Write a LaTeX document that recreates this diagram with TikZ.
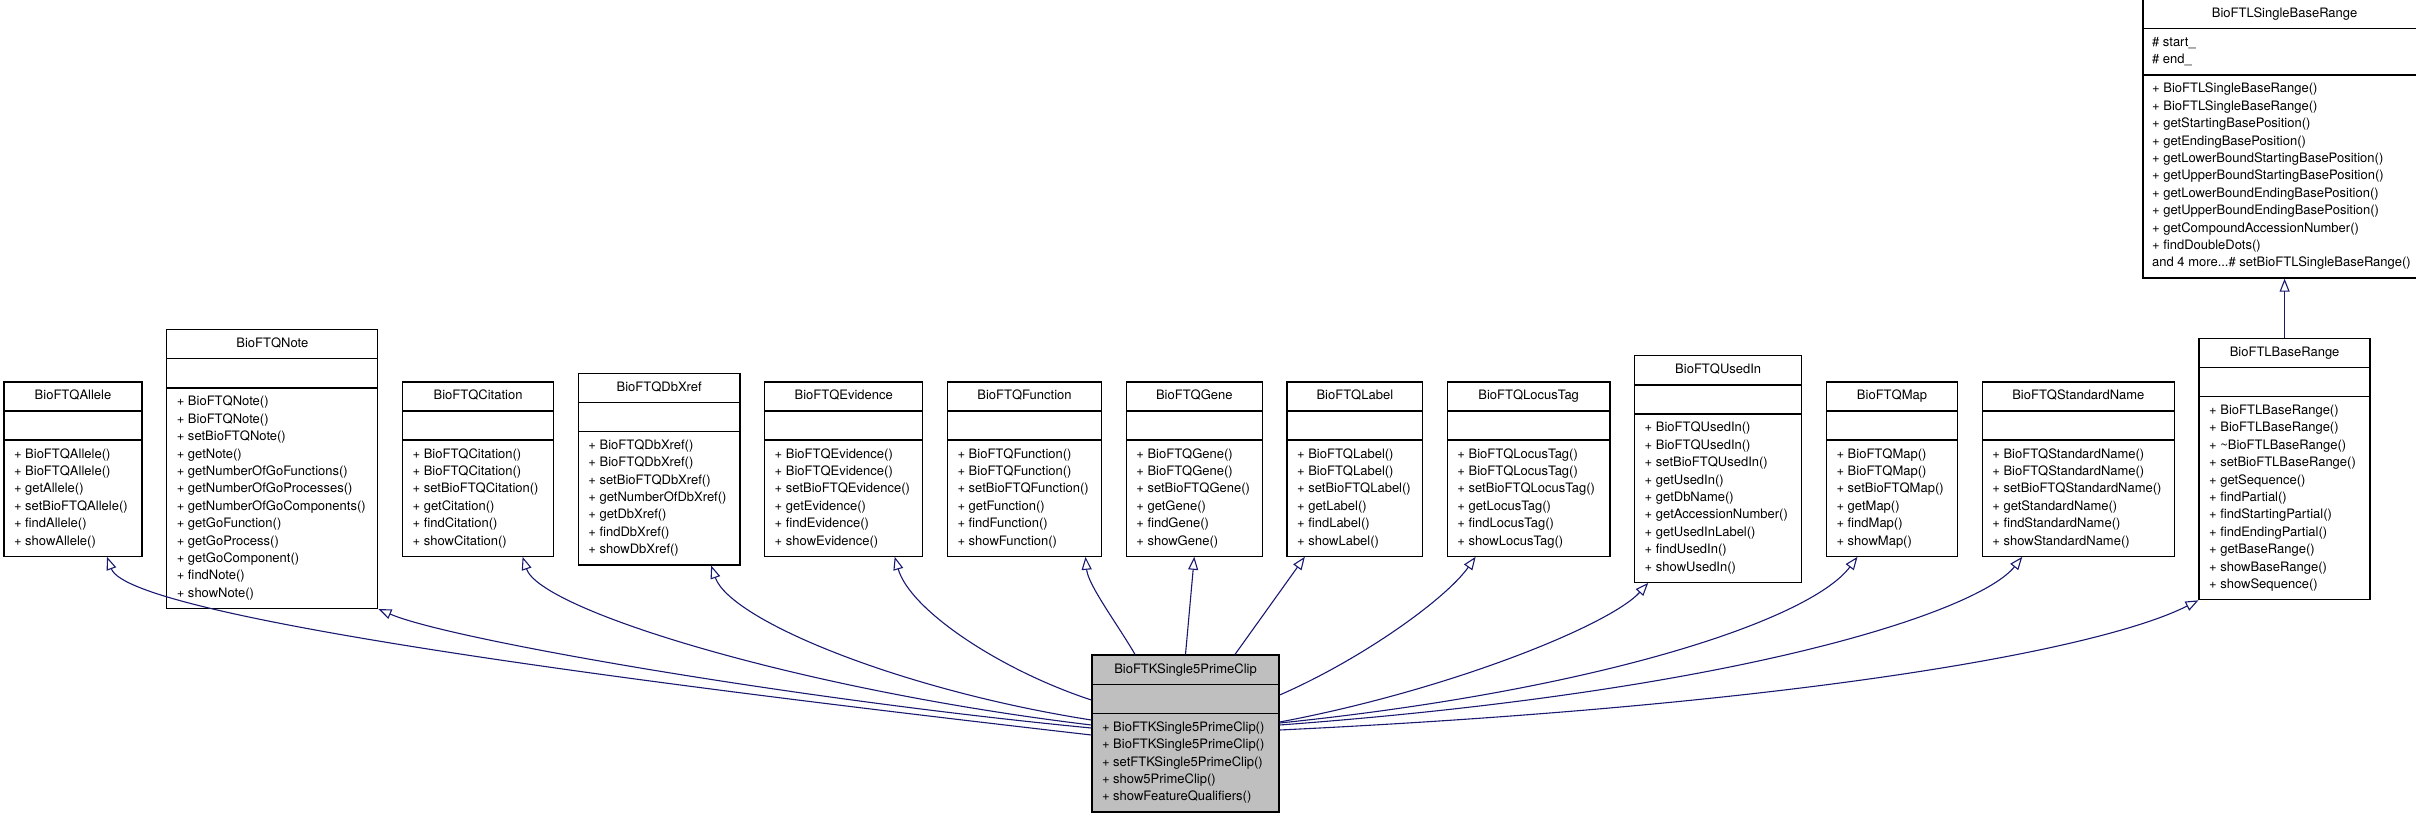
\documentclass[tikz,border=0pt]{standalone}
\usepackage{fontspec}
\setmainfont{TeX Gyre Heros}
\usetikzlibrary{shapes.multipart,positioning,arrows.meta}
\definecolor{edgeblue}{HTML}{191970}
\definecolor{curgray}{HTML}{BFBFBF}
\tikzset{
  umlclass/.style={rectangle split, rectangle split parts=3, draw=black, line width=1.3pt,
    fill=white, font=\fontsize{13}{17.4}\selectfont, align=left,
    rectangle split part align={center,left,left}, inner xsep=10pt, inner ysep=5.2pt},
  current/.style={umlclass, fill=curgray},
  inherit/.style={draw=edgeblue, line width=1.1pt, -{Triangle[open, length=13pt, width=10pt]}},
}
\begin{document}
\begin{tikzpicture}[x=1pt, y=-1pt, node distance=23.5pt]
  \useasboundingbox (0,0) rectangle (2416,816);
  % Define nodes
  \node[umlclass, minimum width=138pt] (allele) at (73,469) {\strut BioFTQAllele
    \nodepart{two}\strut
    \nodepart{three}\strut+ BioFTQAllele()\\+ BioFTQAllele()\\+ getAllele()\\+ setBioFTQAllele()\\+ findAllele()\\+ showAllele()\strut};
  \node[umlclass, minimum width=211pt, right=of allele] (note) {\strut BioFTQNote
    \nodepart{two}\strut
    \nodepart{three}\strut+ BioFTQNote()\\+ BioFTQNote()\\+ setBioFTQNote()\\+ getNote()\\+ getNumberOfGoFunctions()\\+ getNumberOfGoProcesses()\\+ getNumberOfGoComponents()\\+ getGoFunction()\\+ getGoProcess()\\+ getGoComponent()\\+ findNote()\\+ showNote()\strut};
  \node[umlclass, minimum width=151pt, right=of note] (citation) {\strut BioFTQCitation
    \nodepart{two}\strut
    \nodepart{three}\strut+ BioFTQCitation()\\+ BioFTQCitation()\\+ setBioFTQCitation()\\+ getCitation()\\+ findCitation()\\+ showCitation()\strut};
  \node[umlclass, minimum width=161.5pt, right=of citation] (dbxref) {\strut BioFTQDbXref
    \nodepart{two}\strut
    \nodepart{three}\strut+ BioFTQDbXref()\\+ BioFTQDbXref()\\+ setBioFTQDbXref()\\+ getNumberOfDbXref()\\+ getDbXref()\\+ findDbXref()\\+ showDbXref()\strut};
  \node[umlclass, minimum width=158pt, right=of dbxref] (evidence) {\strut BioFTQEvidence
    \nodepart{two}\strut
    \nodepart{three}\strut+ BioFTQEvidence()\\+ BioFTQEvidence()\\+ setBioFTQEvidence()\\+ getEvidence()\\+ findEvidence()\\+ showEvidence()\strut};
  \node[umlclass, minimum width=154pt, right=of evidence] (function) {\strut BioFTQFunction
    \nodepart{two}\strut
    \nodepart{three}\strut+ BioFTQFunction()\\+ BioFTQFunction()\\+ setBioFTQFunction()\\+ getFunction()\\+ findFunction()\\+ showFunction()\strut};
  \node[umlclass, minimum width=136pt, right=of function] (gene) {\strut BioFTQGene
    \nodepart{two}\strut
    \nodepart{three}\strut+ BioFTQGene()\\+ BioFTQGene()\\+ setBioFTQGene()\\+ getGene()\\+ findGene()\\+ showGene()\strut};
  \node[umlclass, minimum width=135.5pt, right=of gene] (label) {\strut BioFTQLabel
    \nodepart{two}\strut
    \nodepart{three}\strut+ BioFTQLabel()\\+ BioFTQLabel()\\+ setBioFTQLabel()\\+ getLabel()\\+ findLabel()\\+ showLabel()\strut};
  \node[umlclass, minimum width=162.5pt, right=of label] (locustag) {\strut BioFTQLocusTag
    \nodepart{two}\strut
    \nodepart{three}\strut+ BioFTQLocusTag()\\+ BioFTQLocusTag()\\+ setBioFTQLocusTag()\\+ getLocusTag()\\+ findLocusTag()\\+ showLocusTag()\strut};
  \node[umlclass, minimum width=167pt, right=of locustag] (usedin) {\strut BioFTQUsedIn
    \nodepart{two}\strut
    \nodepart{three}\strut+ BioFTQUsedIn()\\+ BioFTQUsedIn()\\+ setBioFTQUsedIn()\\+ getUsedIn()\\+ getDbName()\\+ getAccessionNumber()\\+ getUsedInLabel()\\+ findUsedIn()\\+ showUsedIn()\strut};
  \node[umlclass, minimum width=131pt, right=of usedin] (map) {\strut BioFTQMap
    \nodepart{two}\strut
    \nodepart{three}\strut+ BioFTQMap()\\+ BioFTQMap()\\+ setBioFTQMap()\\+ getMap()\\+ findMap()\\+ showMap()\strut};
  \node[umlclass, minimum width=192pt, right=of map] (stdname) {\strut BioFTQStandardName
    \nodepart{two}\strut
    \nodepart{three}\strut+ BioFTQStandardName()\\+ BioFTQStandardName()\\+ setBioFTQStandardName()\\+ getStandardName()\\+ findStandardName()\\+ showStandardName()\strut};
  \node[umlclass, minimum width=171pt, right=of stdname] (baserange) {\strut BioFTLBaseRange
    \nodepart{two}\strut
    \nodepart{three}\strut+ BioFTLBaseRange()\\+ BioFTLBaseRange()\\+ \textasciitilde BioFTLBaseRange()\\+ setBioFTLBaseRange()\\+ getSequence()\\+ findPartial()\\+ findStartingPartial()\\+ findEndingPartial()\\+ getBaseRange()\\+ showBaseRange()\\+ showSequence()\strut};
  \node[umlclass, minimum width=283pt, inner xsep=9pt, above=59pt of baserange] (singlerange) {\strut BioFTLSingleBaseRange
    \nodepart{two}\strut\# start\_\\\# end\_\strut
    \nodepart{three}\strut+ BioFTLSingleBaseRange()\\+ BioFTLSingleBaseRange()\\+ getStartingBasePosition()\\+ getEndingBasePosition()\\+ getLowerBoundStartingBasePosition()\\+ getUpperBoundStartingBasePosition()\\+ getLowerBoundEndingBasePosition()\\+ getUpperBoundEndingBasePosition()\\+ getCompoundAccessionNumber()\\+ findDoubleDots()\\and 4 more...\# setBioFTLSingleBaseRange()\strut};
  \node[current, minimum width=187pt] (clip) at (1185.5,733.5) {\strut BioFTKSingle5PrimeClip
    \nodepart{two}\strut
    \nodepart{three}\strut+ BioFTKSingle5PrimeClip()\\+ BioFTKSingle5PrimeClip()\\+ setFTKSingle5PrimeClip()\\+ show5PrimeClip()\\+ showFeatureQualifiers()\strut};
  % Connect nodes
  \draw[inherit] ([yshift=-1.5pt]clip.west) .. controls (700,690) and (130,620) .. ([xshift=34pt]allele.south);
  \draw[inherit] ([yshift=5.5pt]clip.west) .. controls (800,700) and (450,640) .. (note.south east);
  \draw[inherit] ([yshift=8.5pt]clip.west) .. controls (800,690) and (540,610) .. ([xshift=44.5pt]citation.south);
  \draw[inherit] ([yshift=13.5pt]clip.west) .. controls (900,690) and (730,620) .. ([xshift=52pt]dbxref.south);
  \draw[inherit] ([yshift=33.5pt]clip.west) .. controls (1000,670) and (910,610) .. ([xshift=51pt]evidence.south);
  \draw[inherit] ([xshift=-50.5pt]clip.north) .. controls (1118,625) and (1088,585) .. ([xshift=61pt]function.south);
  \draw[inherit] (clip.north) -- (gene.south);
  \draw[inherit] ([xshift=49.5pt]clip.north) -- ([xshift=-50pt]label.south);
  \draw[inherit] ([yshift=38.5pt]clip.east) .. controls (1360,660) and (1445,600) .. ([xshift=-53pt]locustag.south);
  \draw[inherit] ([yshift=11.5pt]clip.east) .. controls (1450,690) and (1610,625) .. ([xshift=-70pt]usedin.south);
  \draw[inherit] ([yshift=10.5pt]clip.east) .. controls (1600,690) and (1810,620) .. ([xshift=-34.5pt]map.south);
  \draw[inherit] ([yshift=8.5pt]clip.east) .. controls (1750,690) and (1980,610) .. ([xshift=-56pt]stdname.south);
  \draw[inherit] ([yshift=3.5pt]clip.east) .. controls (1800,705) and (2100,650) .. (baserange.south west);
  \draw[inherit] (baserange) -- (singlerange);
\end{tikzpicture}
\end{document}
